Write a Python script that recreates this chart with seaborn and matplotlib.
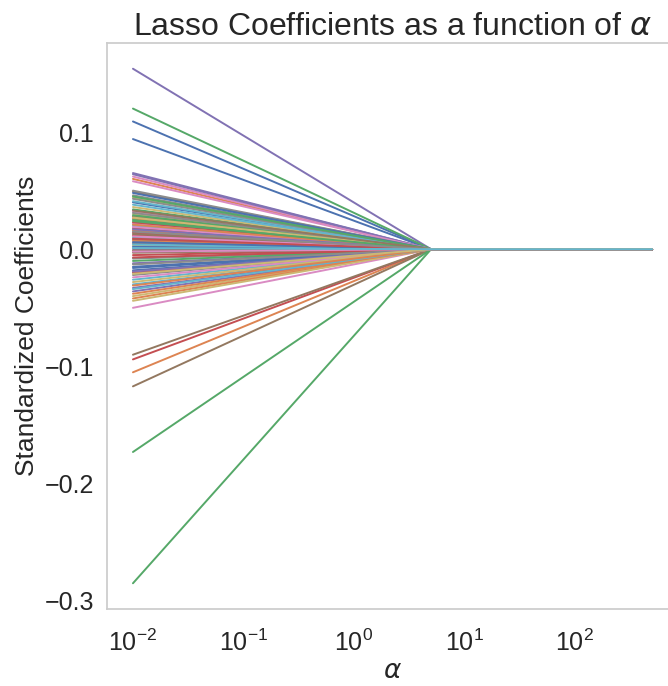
import numpy as np
import pandas as pd
import matplotlib
matplotlib.use("Agg")
import matplotlib.pyplot as plt
import seaborn as sns

# Valores de alpha avaliados no caminho do Lasso
ALPHAS = [0.01, 5.0, 500.0]

# Coeficientes padronizados em alpha = 0.01 (todos zerados a partir de alpha = 5)
COEF_INICIAL = [
    0.109, -0.105, -0.285, -0.094, 0.154, -0.117, -0.050, 0.046, 0.030, 0.020,
    0.094, 0.060, 0.120, 0.012, 0.065, -0.090, 0.062, 0.005, -0.040, -0.030,
    0.040, -0.042, -0.173, 0.018, -0.036, 0.049, 0.032, -0.008, 0.044, 0.041,
    -0.015, 0.026, 0.034, -0.020, 0.064, 0.028, 0.022, 0.043, -0.044, 0.010,
    -0.018, 0.016, 0.029, -0.005, -0.033, 0.008, 0.058, 0.050, 0.003, -0.026,
    0.002, -0.038, 0.025, 0.014, -0.012, -0.003, 0.019, -0.022, 0.036, 0.038,
    0.048, 0.007, -0.010, 0.023, 0.000, 0.013, -0.024, 0.031, -0.028, 0.004,
    -0.016, 0.021, 0.045, -0.007, 0.017, -0.001, 0.011, -0.013, 0.027, -0.034,
    0.006, -0.031, 0.024, 0.009, -0.019, 0.033, -0.002, 0.015, -0.021, 0.001,
]
COEF_ZERADO = [0.0, 0.0]

YTICKS = [-0.3, -0.2, -0.1, 0.0, 0.1]

linhas = []
for i, c in enumerate(COEF_INICIAL):
    for a, v in zip(ALPHAS, [c] + COEF_ZERADO):
        linhas.append({"feature": i, "alpha": a, "coef": v})
df = pd.DataFrame(linhas)

sns.set_theme(style="whitegrid")
plt.rcParams["font.family"] = ["Liberation Sans", "DejaVu Sans"]

fig = plt.figure(figsize=(6.68, 6.86), dpi=100)
ax = fig.add_axes([107 / 668, 77 / 686, 571 / 668, 566 / 686])

sns.lineplot(
    data=df, x="alpha", y="coef", hue="feature",
    palette=sns.color_palette("deep", len(COEF_INICIAL)),
    legend=False, linewidth=1.4, ax=ax, estimator=None,
)
ax.set_xscale("log")
ax.grid(False)
ax.set_yticks(YTICKS)
ax.set_yticklabels([f"{t:.1f}".replace("-", "\u2212") for t in YTICKS])
ax.tick_params(labelsize=18)
ax.tick_params(axis="x", pad=9)
ax.set_xlabel(r"$\alpha$", fontsize=19, labelpad=2)
ax.set_ylabel("Standardized Coefficients", fontsize=19)
ax.set_title(r"Lasso Coefficients as a function of $\alpha$", fontsize=23)

fig.savefig("out.png", dpi=100)
plt.close()
